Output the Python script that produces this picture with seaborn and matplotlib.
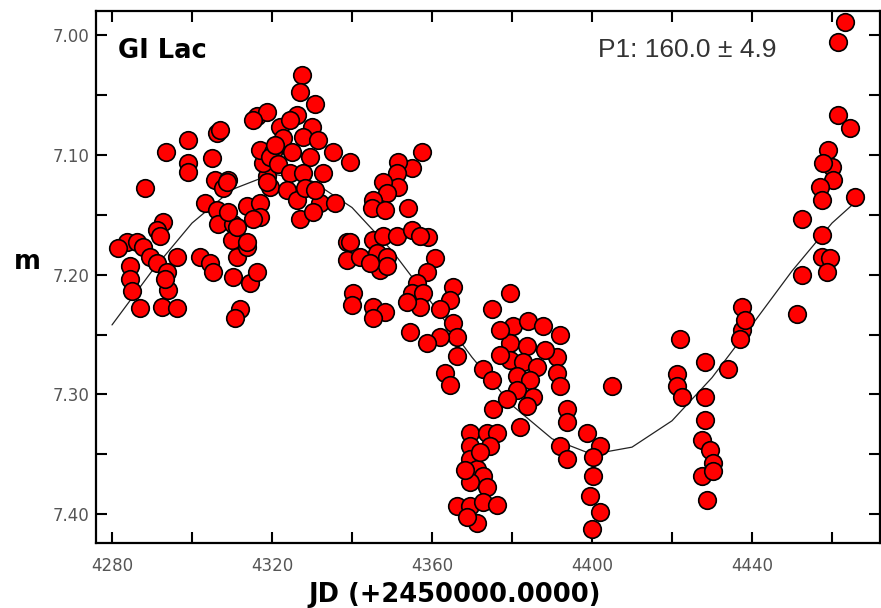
"""Light curve of GI Lac with sinusoidal fit (P1 = 160 d)."""

import matplotlib
matplotlib.use("Agg")

import matplotlib.pyplot as plt
from matplotlib.ticker import FormatStrFormatter, MultipleLocator
import pandas as pd
import seaborn as sns

jd = [
    # 4280 - 4320
    4288.2, 4293.5, 4299.0, 4299.0, 4299.0, 4306.2, 4305.0, 4305.8, 4309.0, 4307.8,
    4283.8, 4286.2, 4287.8, 4292.8, 4291.2, 4292.0, 4289.5, 4291.2, 4293.8, 4296.2,
    4284.5, 4284.5, 4285.0, 4287.0, 4292.5, 4296.2, 4294.0, 4293.2, 4302.0, 4304.5,
    4305.2, 4303.2, 4306.2, 4306.5, 4310.2, 4310.0, 4311.2, 4313.8, 4310.2, 4314.5,
    4316.2, 4312.0, 4310.8, 4313.8, 4317.0, 4317.0, 4318.8, 4317.8, 4317.0, 4320.2,
    4319.5, 4316.2, 4318.8, 4281.5,
    # top cluster
    4327.5, 4327.0, 4330.8, 4315.2, 4326.2, 4330.0, 4322.0, 4322.8, 4327.8, 4325.0,
    4329.5, 4335.2, 4339.5, 4319.5, 4321.5, 4324.5, 4327.8, 4332.8, 4318.8, 4323.8,
    4326.2, 4332.0, 4335.8, 4315.2, 4327.0, 4330.2, 4308.8, 4307.0, 4309.0, 4311.2,
    4313.8, 4338.8, 4324.5, 4331.5, 4328.2, 4320.8, 4330.8,
    # 4340 - 4370
    4357.5, 4355.0, 4351.5, 4351.2, 4351.5, 4347.8, 4348.8, 4345.2, 4345.0, 4348.2,
    4354.0, 4339.5, 4338.8, 4342.0, 4345.2, 4347.8, 4351.2, 4355.0, 4359.0, 4357.0,
    4346.2, 4348.8, 4347.0, 4348.8, 4344.5, 4360.8, 4358.8, 4356.2, 4355.0, 4357.8,
    4357.0, 4353.8, 4365.2, 4364.5, 4362.0, 4365.2, 4366.2, 4362.0, 4358.8, 4354.5,
    4340.2, 4340.0, 4345.2, 4348.2, 4345.2, 4366.2, 4363.2, 4364.5,
    # 4370 - 4405
    4379.5, 4375.0, 4372.8, 4375.0, 4375.2, 4380.2, 4384.0, 4387.8, 4392.0, 4379.5,
    4383.8, 4379.5, 4382.8, 4386.2, 4391.2, 4391.2, 4392.0, 4381.2, 4384.5, 4381.2,
    4385.2, 4378.8, 4383.8, 4382.0, 4393.8, 4393.8, 4392.0, 4393.8, 4398.8, 4402.0,
    4400.2, 4400.2, 4399.5, 4402.0, 4400.0, 4405.0, 4377.0, 4388.2, 4377.0,
    # faint group near 4370
    4369.5, 4373.8, 4376.2, 4369.5, 4374.5, 4369.5, 4371.2, 4372.8, 4369.5, 4373.8,
    4366.2, 4369.5, 4372.8, 4376.2, 4371.2, 4368.8, 4372.0, 4368.2,
    # 4420 - 4440
    4422.0, 4421.2, 4421.2, 4422.5, 4428.2, 4434.0, 4428.2, 4428.2, 4427.5, 4429.5,
    4430.2, 4427.5, 4430.2, 4428.8, 4437.5, 4437.5, 4437.0, 4438.2,
    # 4450 - 4467
    4463.2, 4461.5, 4461.5, 4464.5, 4459.0, 4460.0, 4457.8, 4460.2, 4457.0, 4457.5,
    4465.8, 4452.5, 4457.5, 4457.5, 4459.5, 4458.8, 4452.5, 4451.2,
]
mag = [
    # 4280 - 4320
    7.128, 7.098, 7.088, 7.107, 7.114, 7.082, 7.103, 7.121, 7.121, 7.128,
    7.173, 7.173, 7.177, 7.156, 7.163, 7.168, 7.185, 7.190, 7.198, 7.185,
    7.193, 7.204, 7.214, 7.228, 7.227, 7.228, 7.213, 7.204, 7.185, 7.190,
    7.198, 7.140, 7.146, 7.158, 7.158, 7.171, 7.185, 7.177, 7.202, 7.207,
    7.198, 7.229, 7.236, 7.143, 7.140, 7.152, 7.118, 7.107, 7.096, 7.098,
    7.127, 7.068, 7.064, 7.178,
    # top cluster
    7.033, 7.048, 7.058, 7.071, 7.067, 7.077, 7.077, 7.086, 7.085, 7.098,
    7.102, 7.098, 7.106, 7.102, 7.108, 7.115, 7.115, 7.115, 7.123, 7.129,
    7.138, 7.140, 7.140, 7.154, 7.154, 7.148, 7.123, 7.079, 7.148, 7.160,
    7.173, 7.173, 7.071, 7.088, 7.128, 7.092, 7.129,
    # 4340 - 4370
    7.098, 7.111, 7.106, 7.115, 7.127, 7.123, 7.132, 7.138, 7.144, 7.146,
    7.144, 7.173, 7.188, 7.185, 7.171, 7.168, 7.168, 7.163, 7.169, 7.168,
    7.182, 7.185, 7.196, 7.193, 7.190, 7.186, 7.198, 7.207, 7.215, 7.215,
    7.227, 7.223, 7.210, 7.221, 7.229, 7.240, 7.252, 7.252, 7.257, 7.248,
    7.215, 7.225, 7.227, 7.231, 7.236, 7.268, 7.282, 7.292,
    # 4370 - 4405
    7.215, 7.229, 7.279, 7.288, 7.312, 7.243, 7.239, 7.243, 7.250, 7.257,
    7.260, 7.271, 7.273, 7.277, 7.269, 7.282, 7.293, 7.285, 7.288, 7.296,
    7.302, 7.304, 7.310, 7.327, 7.312, 7.323, 7.343, 7.354, 7.332, 7.343,
    7.352, 7.368, 7.385, 7.398, 7.412, 7.293, 7.246, 7.263, 7.267,
    # faint group near 4370
    7.332, 7.332, 7.332, 7.343, 7.343, 7.354, 7.362, 7.368, 7.373, 7.377,
    7.393, 7.393, 7.390, 7.392, 7.407, 7.402, 7.348, 7.363,
    # 4420 - 4440
    7.254, 7.283, 7.293, 7.302, 7.273, 7.279, 7.302, 7.321, 7.338, 7.346,
    7.357, 7.368, 7.364, 7.388, 7.227, 7.246, 7.254, 7.238,
    # 4450 - 4467
    6.989, 7.006, 7.067, 7.078, 7.096, 7.110, 7.107, 7.121, 7.127, 7.138,
    7.135, 7.154, 7.167, 7.185, 7.186, 7.198, 7.200, 7.233,
]

# fitted curve, read every 10 days
fit_jd = [4280, 4290, 4300, 4310, 4320, 4330, 4340, 4350, 4360, 4370,
          4380, 4390, 4400, 4410, 4420, 4430, 4440, 4450, 4460, 4468]
fit_mag = [7.242, 7.197, 7.157, 7.129, 7.116, 7.122, 7.144, 7.180, 7.224, 7.269,
           7.309, 7.337, 7.350, 7.344, 7.322, 7.286, 7.242, 7.197, 7.157, 7.133]

star_name = "GI Lac"
period_text = "P1: 160.0 ± 4.9"

sns.set_style("ticks")
plt.rcParams["font.family"] = ["DejaVu Sans"]

obs = pd.DataFrame({"jd": jd, "m": mag})
fit = pd.DataFrame({"jd": fit_jd, "m": fit_mag})

fig = plt.figure(figsize=(8.81, 6.08), dpi=100)
ax = fig.add_axes([96 / 881, 65 / 608, 784 / 881, 532 / 608])

sns.lineplot(data=fit, x="jd", y="m", color="#222222", linewidth=0.9,
             sort=False, ax=ax, zorder=1)
sns.scatterplot(data=obs, x="jd", y="m", color="#ff0000", edgecolor="black",
                linewidth=1.2, s=160, legend=False, ax=ax, zorder=2)

ax.set_xlim(4276, 4472)
ax.set_ylim(7.424, 6.98)
ax.xaxis.set_major_locator(MultipleLocator(40))
ax.xaxis.set_minor_locator(MultipleLocator(20))
ax.yaxis.set_major_locator(MultipleLocator(0.1))
ax.yaxis.set_minor_locator(MultipleLocator(0.05))
ax.yaxis.set_major_formatter(FormatStrFormatter("%.2f"))

ax.tick_params(which="both", direction="in", top=True, right=True,
               length=8, width=1.5, color="black")
ax.tick_params(axis="both", labelsize=12, labelcolor="#555555")
ax.tick_params(axis="x", pad=10)
ax.tick_params(axis="y", pad=5)
for spine in ax.spines.values():
    spine.set_linewidth(1.6)
    spine.set_color("black")

ax.set_xlabel("JD (+2450000.0000)", fontsize=18.5, fontweight="bold",
              color="black")
ax.xaxis.set_label_coords(0.458, -0.073)
ax.set_ylabel("m", rotation=0, fontsize=18.5, fontweight="bold",
              color="black", ha="center", va="center")
ax.yaxis.set_label_coords(-0.087, 0.528)

ax.text(0.028, 0.925, star_name, transform=ax.transAxes, fontsize=18.5,
        fontweight="bold", color="black", ha="left", va="center")
ax.text(0.640, 0.927, period_text, transform=ax.transAxes, fontsize=19,
        family=["Liberation Sans", "DejaVu Sans"], color="#333333",
        ha="left", va="center")

fig.savefig("out.png", dpi=100)
plt.close(fig)
